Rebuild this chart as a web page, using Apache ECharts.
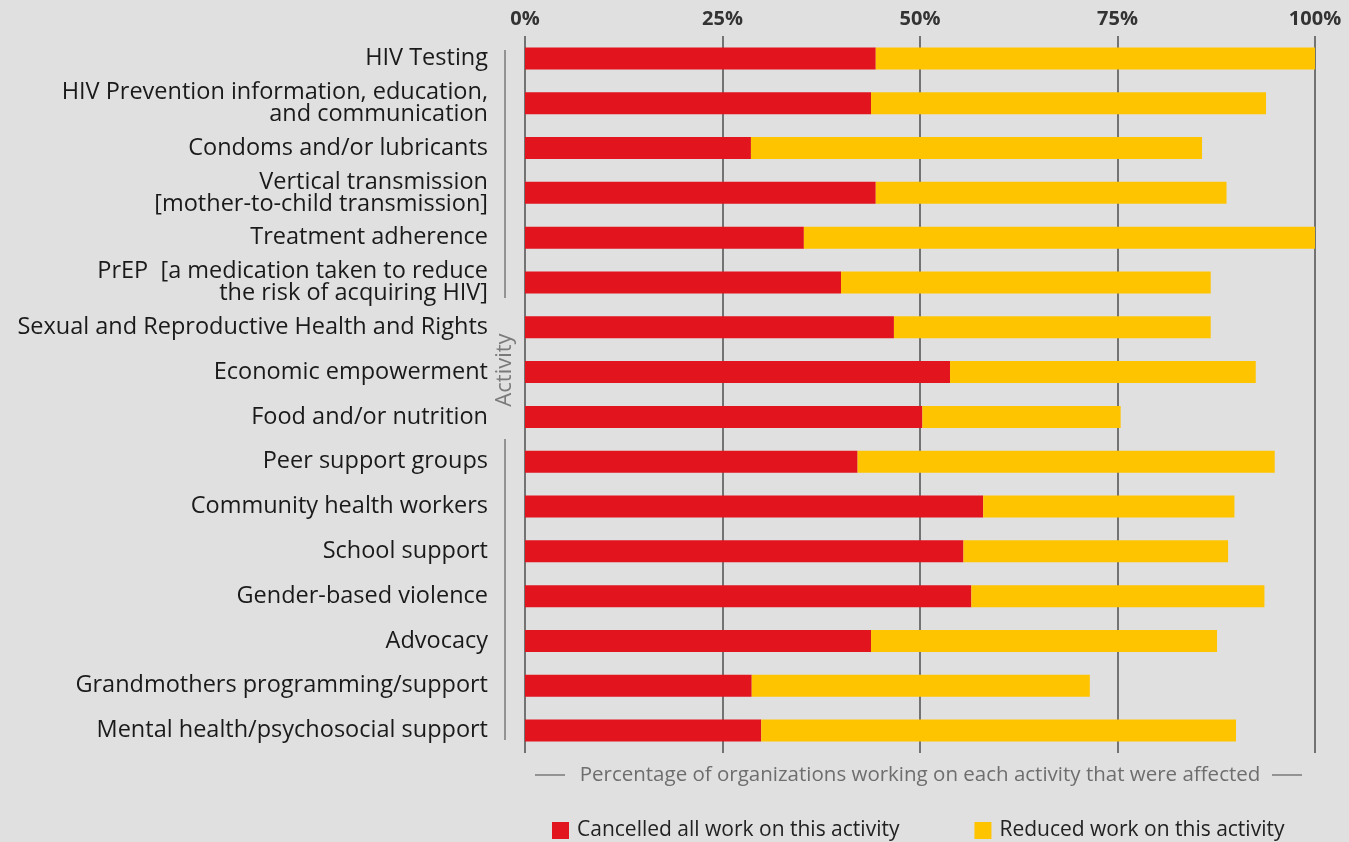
<!DOCTYPE html>
<html>
<head>
<meta charset="utf-8">
<script src="https://cdn.jsdelivr.net/npm/echarts@6/dist/echarts.min.js"></script>
<style>
html,body{margin:0;padding:0;background:#e0e0e0;}
#chart{width:1349px;height:842px;}
</style>
</head>
<body>
<div id="chart"></div>
<script>
const categories = [
  "HIV Testing",
  "HIV Prevention information, education,\nand communication",
  "Condoms and/or lubricants",
  "Vertical transmission\n[mother-to-child transmission]",
  "Treatment adherence",
  "PrEP  [a medication taken to reduce\nthe risk of acquiring HIV]",
  "Sexual and Reproductive Health and Rights",
  "Economic empowerment",
  "Food and/or nutrition",
  "Peer support groups",
  "Community health workers",
  "School support",
  "Gender-based violence",
  "Advocacy",
  "Grandmothers programming/support",
  "Mental health/psychosocial support"
];
const cancelled = [44.4, 43.8, 28.6, 44.4, 35.3, 40.0, 46.7, 53.8, 50.3, 42.1, 58.0, 55.5, 56.5, 43.8, 28.7, 29.9];
const reduced   = [55.6, 50.0, 57.1, 44.4, 64.7, 46.8, 40.1, 38.7, 25.1, 52.8, 31.8, 33.5, 37.1, 43.8, 42.8, 60.1];
const seriesNames = ["Cancelled all work on this activity", "Reduced work on this activity"];
const xTicks = [0, 25, 50, 75, 100];

const FONT = "Open Sans";
const chart = echarts.init(document.getElementById('chart'), null, {renderer: 'canvas'});

const option = {
  backgroundColor: '#e0e0e0',
  animation: false,
  textStyle: {fontFamily: FONT},
  grid: {left: 525, right: 34, top: 36, bottom: 89, containLabel: false},
  xAxis: [{
    type: 'value', position: 'top', min: 0, max: 100, interval: 25,
    axisLine: {show: false}, axisTick: {show: false},
    splitLine: {show: true, lineStyle: {color: '#737373', width: 2}},
    axisLabel: {formatter: v => xTicks.includes(v) ? v + '%' : '', color: '#333', fontSize: 20, fontWeight: 'bold', margin: 7, fontFamily: FONT}
  }, {
    type: 'value', position: 'bottom', min: 0, max: 100, interval: 25,
    axisLine: {show: false}, axisTick: {show: false}, splitLine: {show: false},
    axisLabel: {show: false},
    name: 'Percentage of organizations working on each activity that were affected',
    nameLocation: 'middle', nameGap: 12,
    nameTextStyle: {color: '#6e6e6e', fontSize: 20.5, fontFamily: FONT}
  }],
  yAxis: {
    type: 'category', data: categories, inverse: true,
    axisLine: {show: false}, axisTick: {show: false},
    axisLabel: {color: '#1a1a1a', fontSize: 23.5, lineHeight: 22, margin: 37, fontFamily: FONT}
  },
  legend: {
    left: 552, top: 820, padding: 0, itemWidth: 17, itemHeight: 17, itemGap: 75, icon: 'rect',
    textStyle: {color: '#222', fontSize: 21, fontFamily: FONT, padding: [0, 0, 0, 3]},
    data: seriesNames
  },
  series: [{
    name: seriesNames[0], type: 'bar', stack: 'total', data: cancelled,
    barWidth: 22, itemStyle: {color: '#e2141e'}
  }, {
    name: seriesNames[1], type: 'bar', stack: 'total', data: reduced,
    barWidth: 22, itemStyle: {color: '#ffc400'}
  }],
  graphic: [
    {type: 'text', x: 505, y: 370, rotation: Math.PI / 2,
     style: {text: 'Activity', fill: '#7a7a7a', font: '22px "Open Sans"', align: 'center', verticalAlign: 'middle'}},
    {type: 'line', shape: {x1: 505, y1: 50, x2: 505, y2: 298}, style: {stroke: '#7a7a7a', lineWidth: 1.5}},
    {type: 'line', shape: {x1: 505, y1: 439, x2: 505, y2: 740}, style: {stroke: '#7a7a7a', lineWidth: 1.5}},
    {type: 'line', shape: {x1: 535, y1: 775, x2: 565, y2: 775}, style: {stroke: '#7a7a7a', lineWidth: 1.5}},
    {type: 'line', shape: {x1: 1272, y1: 775, x2: 1302, y2: 775}, style: {stroke: '#7a7a7a', lineWidth: 1.5}}
  ]
};
chart.setOption(option);
</script>
</body>
</html>
